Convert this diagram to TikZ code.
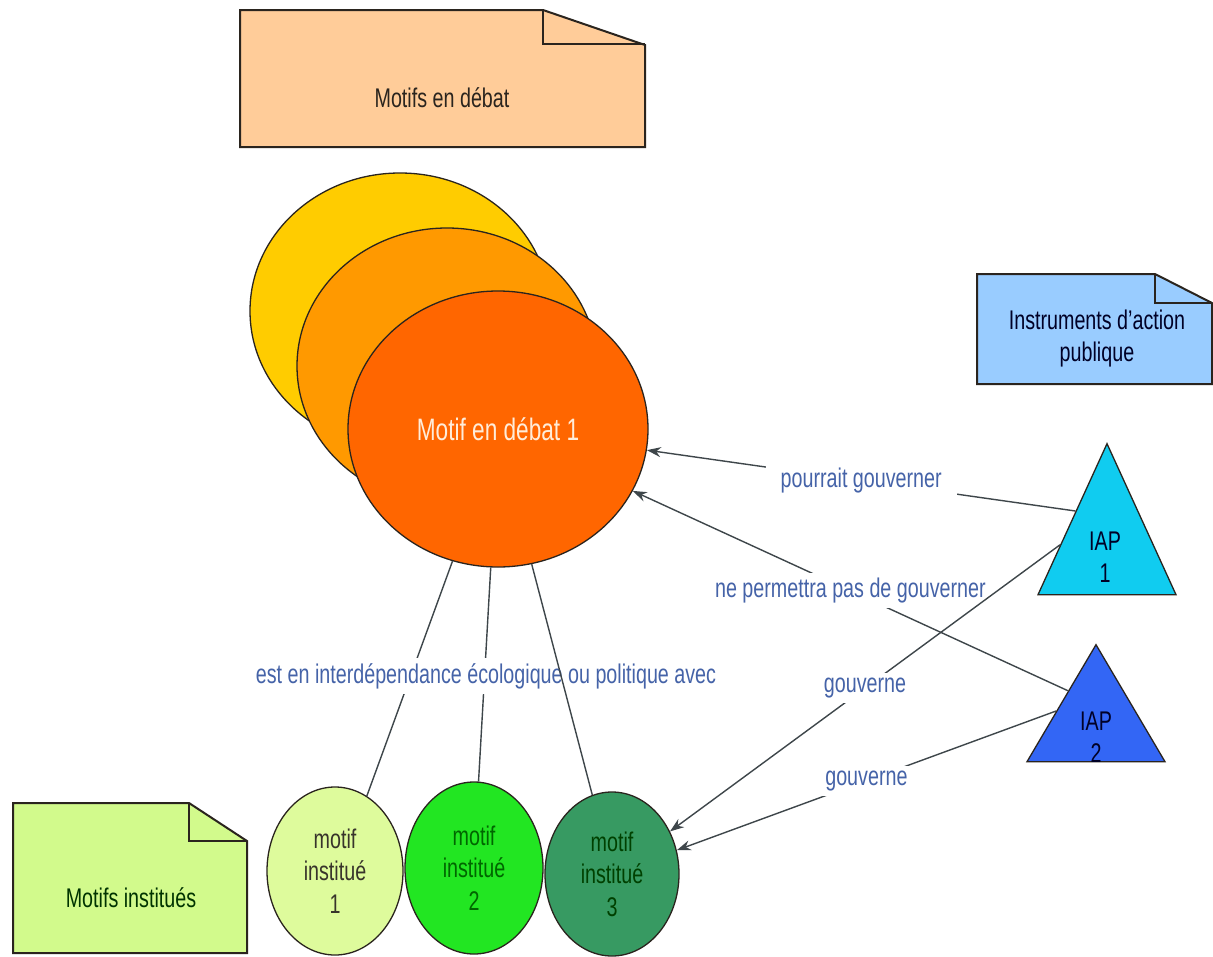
\documentclass[tikz,border=0pt]{standalone}
\usepackage{fontspec}
\setmainfont{Liberation Sans}[FakeStretch=0.73]
\usetikzlibrary{shapes.geometric,arrows.meta,calc}
\definecolor{noteA}{HTML}{FFCC99}
\definecolor{noteB}{HTML}{99CCFF}
\definecolor{noteC}{HTML}{D2FA8C}
\definecolor{ellY}{HTML}{FFCC00}
\definecolor{ellO}{HTML}{FF9900}
\definecolor{ellR}{HTML}{FF6600}
\definecolor{grA}{HTML}{DEFB9C}
\definecolor{grB}{HTML}{22E622}
\definecolor{grC}{HTML}{379A62}
\definecolor{iapA}{HTML}{10CCF0}
\definecolor{iapB}{HTML}{3366F5}
\definecolor{labcol}{HTML}{4563A8}
\definecolor{linecol}{HTML}{3E464A}
\definecolor{bord}{HTML}{2A241E}
\begin{document}
\begin{tikzpicture}[x=1pt,y=-1pt,
  notebox/.style={draw=bord, line width=2pt, line join=miter},
  notetext/.style={font=\fontsize{27}{32}\selectfont, align=center},
  bigell/.style={ellipse, draw=bord, line width=1.3pt, minimum width=300pt, minimum height=276pt, inner sep=0pt},
  smallell/.style={ellipse, draw=bord, line width=1.3pt, inner sep=0pt, align=center, font=\fontsize{27}{32.5}\selectfont},
  tri/.style={isosceles triangle, shape border rotate=90, isosceles triangle stretches, draw=bord, line width=1.3pt, inner sep=0pt, anchor=apex},
  conn/.style={draw=linecol, line width=1.4pt},
  arr/.style={conn, -{Stealth[length=14pt,width=10pt]}},
  lab/.style={fill=white, text=labcol, font=\fontsize{27}{32}\selectfont, inner xsep=15pt, inner ysep=5pt}]
\useasboundingbox (0,0) rectangle (1213,956);
\fill[white] (0,0) rectangle (1213,956);

% notes
\draw[notebox, fill=noteA] (240,10) -- (543,10) -- (645,45) -- (645,147) -- (240,147) -- cycle;
\draw[notebox] (543,10) -- (543,44) -- (645,44);
\node[notetext, text=bord] (n1) at (442,98) {Motifs en débat};

\draw[notebox, fill=noteB] (977,274) -- (1155,274) -- (1212,303) -- (1212,384) -- (977,384) -- cycle;
\draw[notebox] (1155,274) -- (1155,303) -- (1212,303);
\node[notetext, text=black!85!blue] (n2) at (1097,339) {Instruments d'action\\publique};

\draw[notebox, fill=noteC] (13,803) -- (189,803) -- (247,841) -- (247,953) -- (13,953) -- cycle;
\draw[notebox] (189,803) -- (189,841) -- (247,841);
\node[notetext, text=black!80!green] (n3) at (131,898) {Motifs institués};

% big ellipses
\node[bigell, fill=ellY] (e1) at (400,311) {};
\node[bigell, fill=ellO] (e2) at (447,366) {};
\node[bigell, fill=ellR, text=orange!15!white, font=\fontsize{31}{36}\selectfont] (big) at (498,429) {Motif en débat 1};

% small ellipses
\node[smallell, fill=grA, text=black!80!olive, minimum width=136pt, minimum height=168pt] (g1) at (335,871) {motif\\institué\\1};
\node[smallell, fill=grB, text=black!60!green, minimum width=138pt, minimum height=172pt] (g2) at (474,868) {motif\\institué\\2};
\node[smallell, fill=grC, text=black!75!green, minimum width=134pt, minimum height=164pt] (g3) at (612,874) {motif\\institué\\3};

% triangles
\node[tri, fill=iapA, minimum width=138pt, minimum height=151pt] (iap1) at (1107,442) {};
\node[tri, fill=iapB, minimum width=138pt, minimum height=117pt] (iap2) at (1096,643) {};
\node[notetext, text=black!85!blue] (t1) at (1105,557) {IAP\\1};
\node[notetext, text=black!85!blue] (t2) at (1096,737) {IAP\\2};

% attachment points on the triangles' left sides
\coordinate (p1) at ($(iap1.apex)!0.45!(iap1.left corner)$);
\coordinate (p3) at ($(iap1.apex)!0.67!(iap1.left corner)$);
\coordinate (p2) at ($(iap2.apex)!0.40!(iap2.left corner)$);
\coordinate (p4) at ($(iap2.apex)!0.57!(iap2.left corner)$);

% interdependence lines
\draw[conn] (big.251) -- (g1.67);
\draw[conn] (big.267) -- (g2.87);
\node[lab] (li) at (486,676) {est en interdépendance écologique ou politique avec};
\draw[conn] (big.284) -- (g3.104);

% governance connectors
\draw[arr] (p1) -- node[lab] (l1) {pourrait gouverner} (big);
\draw[arr] (p2) -- node[lab] (l2) {ne permettra pas de gouverner} (big);
\draw[arr] (p3) -- node[lab] (l3) {gouverne} (g3);
\draw[arr] (p4) -- node[lab] (l4) {gouverne} (g3);
\end{tikzpicture}
\end{document}
